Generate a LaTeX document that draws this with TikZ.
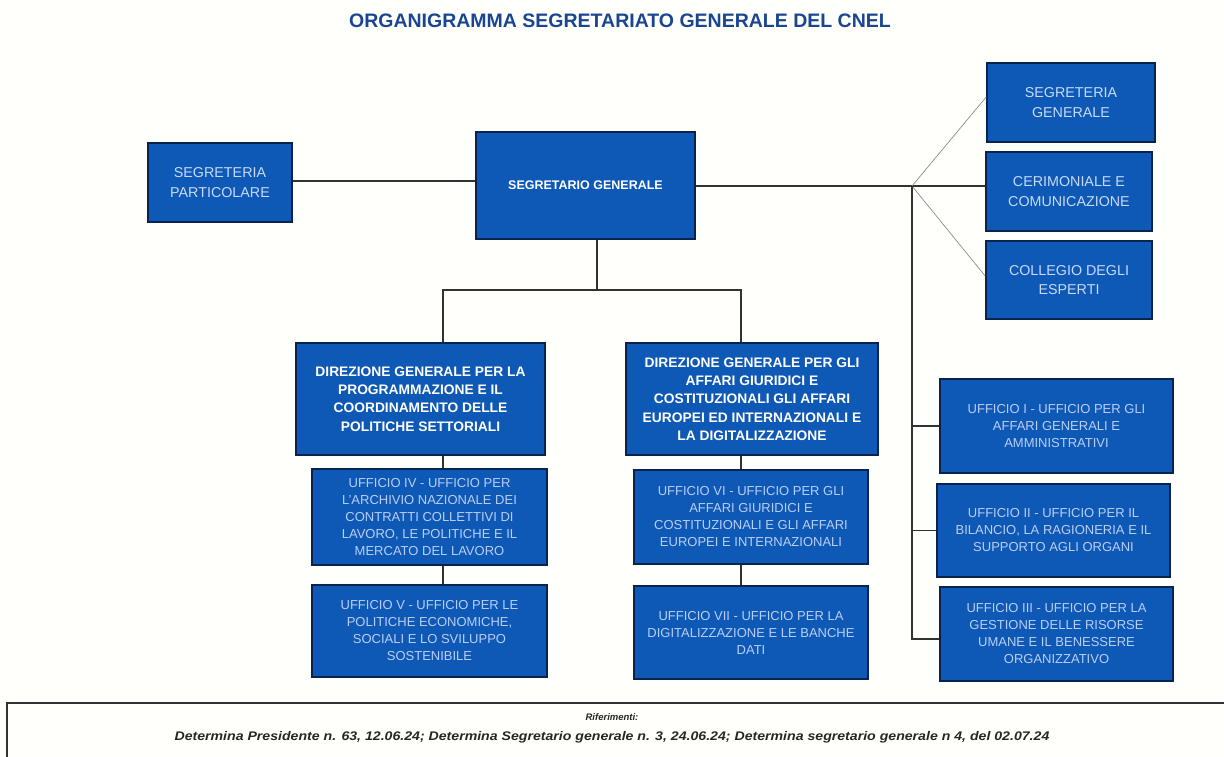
\documentclass[tikz,border=0pt]{standalone}
\usepackage{fontspec}
\setmainfont{Liberation Sans}
\usetikzlibrary{calc}
\definecolor{boxblue}{RGB}{14,88,182}
\definecolor{boxedge}{RGB}{10,34,78}
\definecolor{titleblue}{RGB}{26,70,145}
\definecolor{lighttxt}{RGB}{200,218,248}
\definecolor{officetxt}{RGB}{185,206,245}
\definecolor{linegray}{RGB}{50,50,50}
\definecolor{diaggray}{RGB}{140,140,140}
\newcommand\obox[7]{\node[#6,minimum width={(#4-#2)*1pt},minimum height={(#5-#3)*1pt}] (#1) at ({(#2+#4)/2},{(#3+#5)/2}) {#7};}
\begin{document}
\begin{tikzpicture}[x=1pt,y=-1pt,
  box/.style={draw=boxedge,line width=1.6pt,fill=boxblue,align=center,inner sep=0pt},
  boldbox/.style={box,text=white,font=\fontsize{12.5}{18}\selectfont\bfseries},
  dgbox/.style={box,text=white,font=\fontsize{13.8}{18.3}\selectfont\bfseries},
  plainbox/.style={box,text=lighttxt,font=\fontsize{14.3}{19.5}\selectfont},
  officebox/.style={box,text=officetxt,font=\fontsize{13}{17}\selectfont},
  conn/.style={draw=linegray,line width=1.2pt},
  diag/.style={draw=diaggray,line width=0.7pt}]
\useasboundingbox (0,0) rectangle (1224,757);
\fill[white!99!yellow] (0,0) rectangle (1224,757);

\node[font=\fontsize{19.5}{22}\selectfont\bfseries,text=titleblue] (title) at (620,21) {ORGANIGRAMMA SEGRETARIATO GENERALE DEL CNEL};

\obox{SP}{148}{143}{292}{222}{plainbox}{SEGRETERIA\\PARTICOLARE}
\obox{SG}{476}{132}{695}{239}{boldbox}{SEGRETARIO GENERALE}
\obox{DGa}{296}{343}{545}{455}{dgbox}{DIREZIONE GENERALE PER LA\\PROGRAMMAZIONE E IL\\COORDINAMENTO DELLE\\POLITICHE SETTORIALI}
\obox{DGb}{626}{343}{878}{455}{dgbox}{DIREZIONE GENERALE PER GLI\\AFFARI GIURIDICI E\\COSTITUZIONALI GLI AFFARI\\EUROPEI ED INTERNAZIONALI E\\LA DIGITALIZZAZIONE}
\obox{UIV}{312}{469}{547}{565}{officebox}{UFFICIO IV - UFFICIO PER\\L'ARCHIVIO NAZIONALE DEI\\CONTRATTI COLLETTIVI DI\\LAVORO, LE POLITICHE E IL\\MERCATO DEL LAVORO}
\obox{UV}{312}{585}{547}{677}{officebox}{UFFICIO V - UFFICIO PER LE\\POLITICHE ECONOMICHE,\\SOCIALI E LO SVILUPPO\\SOSTENIBILE}
\obox{UVI}{634}{470}{868}{564}{officebox}{UFFICIO VI - UFFICIO PER GLI\\AFFARI GIURIDICI E\\COSTITUZIONALI E GLI AFFARI\\EUROPEI E INTERNAZIONALI}
\obox{UVII}{634}{586}{868}{679}{officebox}{UFFICIO VII - UFFICIO PER LA\\DIGITALIZZAZIONE E LE BANCHE\\DATI}
\obox{SGen}{987}{63}{1155}{142}{plainbox}{SEGRETERIA\\GENERALE}
\obox{CER}{986}{152}{1152}{231}{plainbox}{CERIMONIALE E\\COMUNICAZIONE}
\obox{COL}{986}{241}{1152}{319}{plainbox}{COLLEGIO DEGLI\\ESPERTI}
\obox{UI}{940}{379}{1173}{473}{officebox}{UFFICIO I - UFFICIO PER GLI\\AFFARI GENERALI E\\AMMINISTRATIVI}
\obox{UII}{937}{484}{1170}{577}{officebox}{UFFICIO II - UFFICIO PER IL\\BILANCIO, LA RAGIONERIA E IL\\SUPPORTO AGLI ORGANI}
\obox{UIII}{940}{587}{1173}{681}{officebox}{UFFICIO III - UFFICIO PER LA\\GESTIONE DELLE RISORSE\\UMANE E IL BENESSERE\\ORGANIZZATIVO}

% connector skeleton
\coordinate (bus) at (597,290);
\coordinate (busL) at (443,290);
\coordinate (busR) at (741,290);
\coordinate (J) at (912,186);

\draw[conn] (SP.east |- 0,181) -- (SG.west |- 0,181);
\draw[conn] (SG.south -| bus) -- (bus);
\draw[conn] (DGa.north -| busL) -- (busL) -- (busR) -- (DGb.north -| busR);
\draw[conn] (DGa.south -| busL) -- (UIV.north -| busL);
\draw[conn] (UIV.south -| busL) -- (UV.north -| busL);
\draw[conn] (DGb.south -| busR) -- (UVI.north -| busR);
\draw[conn] (UVI.south -| busR) -- (UVII.north -| busR);
\draw[conn] (SG.east |- J) -- (J) -- (CER.west |- J);
\draw[diag] (J) -- (SGen.west |- 0,97);
\draw[diag] (J) -- (COL.west |- 0,276);
\draw[conn] (J) |- (UIII.west |- 0,639);
\draw[conn] (J |- UI.west) -- (UI.west);
\draw[conn] (J |- UII.west) -- (UII.west);

% footer
\draw[line width=1.1pt,draw=linegray] (7,770) -- (7,703) -- (1230,703);
\node[font=\fontsize{9.5}{11}\selectfont\bfseries\itshape,text=black!85] (ref) at (612,717) {Riferimenti:};
\node[font=\fontsize{12.5}{14}\selectfont\bfseries\itshape,text=black!85] (refs) at (612,737) {\scalebox{1.13}[1]{Determina Presidente n. 63, 12.06.24; Determina Segretario generale n. 3, 24.06.24; Determina segretario generale n 4, del 02.07.24}};
\end{tikzpicture}
\end{document}
